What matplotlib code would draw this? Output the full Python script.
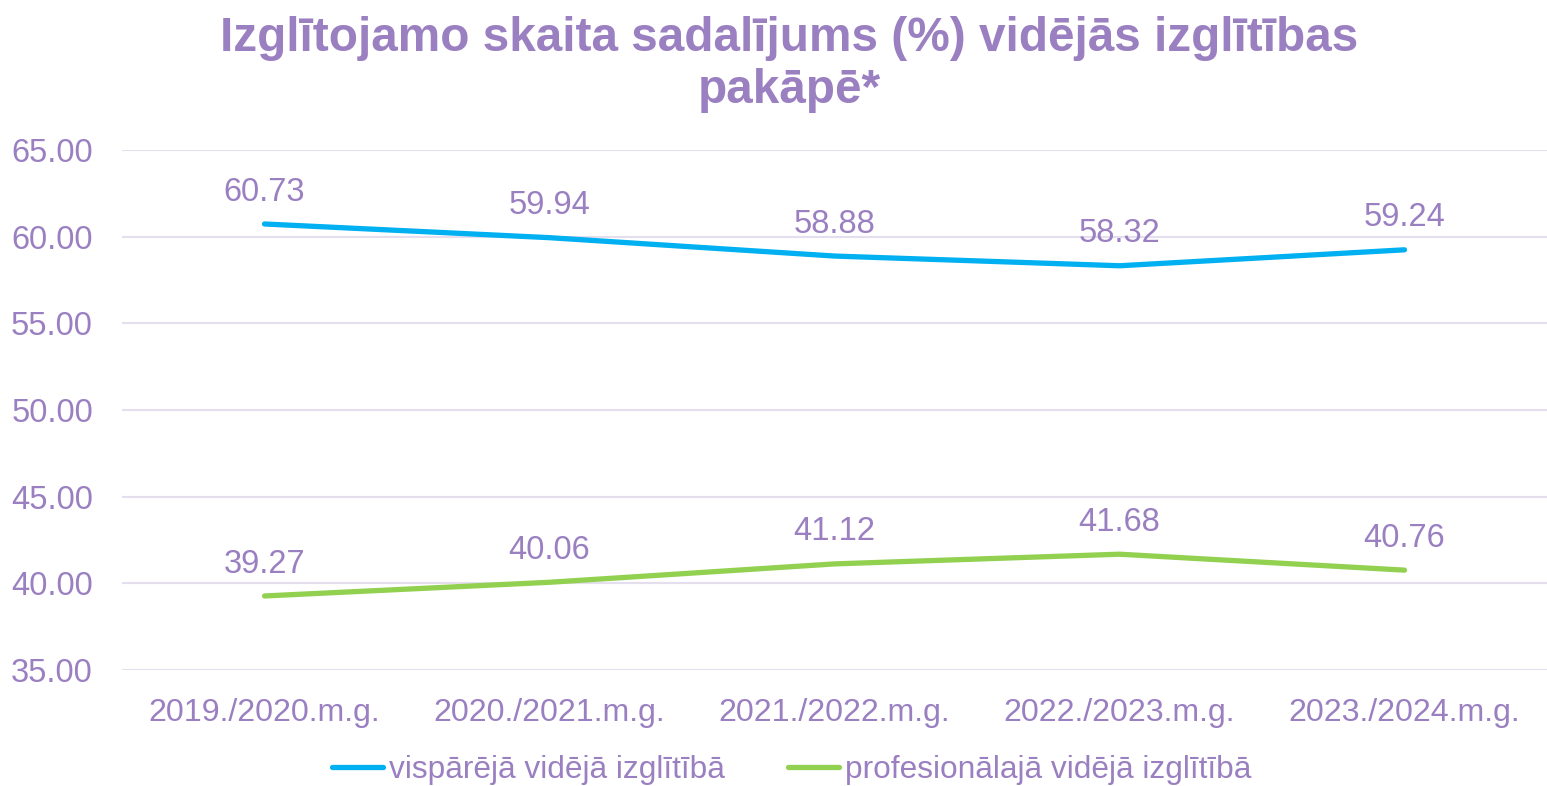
import matplotlib.pyplot as plt

plt.rcParams['font.family'] = ['Liberation Sans', 'DejaVu Sans']

years = ['2019./2020.m.g.', '2020./2021.m.g.', '2021./2022.m.g.',
         '2022./2023.m.g.', '2023./2024.m.g.']
general = [60.73, 59.94, 58.88, 58.32, 59.24]
vocational = [39.27, 40.06, 41.12, 41.68, 40.76]
yticks = [35, 40, 45, 50, 55, 60, 65]

purple = '#9A7FC1'
blue = '#00B0F0'
green = '#92D050'

fig = plt.figure(figsize=(15.47, 7.86), dpi=100)
ax = fig.add_axes([0.0789, 0.1476, 0.9211, 0.6616])

x = range(len(years))
ax.plot(x, general, color=blue, lw=3.8, solid_capstyle='round',
        label='vispārējā vidējā izglītībā')
ax.plot(x, vocational, color=green, lw=3.8, solid_capstyle='round',
        label='profesionālajā vidējā izglītībā')

for series in (general, vocational):
    for i, v in enumerate(series):
        ax.annotate('%.2f' % v, (i, v), xytext=(0, 23), textcoords='offset points',
                    ha='center', va='center', fontsize=23.5, color=purple)

ax.set_xlim(-0.5, 4.5)
ax.set_ylim(35, 65)
ax.set_xticks(list(x))
ax.set_xticklabels(years)
ax.set_yticks(yticks)
ax.set_yticklabels(['%.2f' % t for t in yticks])
ax.tick_params(axis='both', length=0, labelsize=23.5, labelcolor=purple)
ax.tick_params(axis='y', pad=21)
ax.tick_params(axis='x', pad=20, labelsize=23.1)
ax.grid(axis='y', color='#E4DEEE', lw=1.5)
ax.set_axisbelow(True)
for s in ax.spines.values():
    s.set_visible(False)

fig.text(0.51, 0.918, 'Izglītojamo skaita sadalījums (%) vidējās izglītības\npakāpē*',
         ha='center', va='center', fontsize=34.4, fontweight='bold', color=purple,
         linespacing=1.2)

leg = fig.legend(loc='center', bbox_to_anchor=(0.512, 0.02), ncol=2, frameon=False,
                 fontsize=22.8, handlelength=1.6, handletextpad=0.2, columnspacing=2.0,
                 labelcolor=purple)

fig.savefig('out.png', dpi=100)
